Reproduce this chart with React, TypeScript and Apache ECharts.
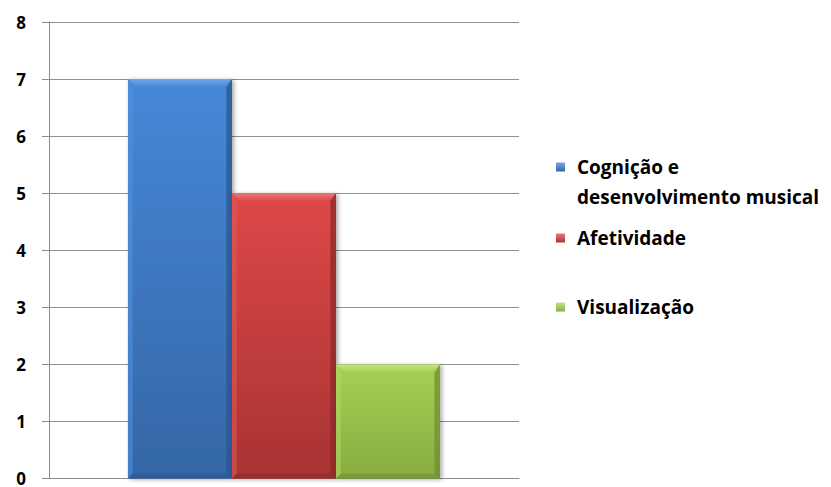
import React, { useEffect, useRef } from "react";
import * as echarts from "echarts";

const categories = [""];
const seriesNames = ["Cognição e desenvolvimento musical", "Afetividade", "Visualização"];
const seriesValues = [7, 5, 2];
const yTickLabels = ["0", "1", "2", "3", "4", "5", "6", "7", "8"];

const palette = [
  { top: "#4688D8", bottom: "#3566A6", light: "#73A6EA", dark: "#2B5590", side: "#5292DE" },
  { top: "#DE4848", bottom: "#A83333", light: "#EE7A78", dark: "#8E2A2A", side: "#E25A58" },
  { top: "#A8D054", bottom: "#86AC40", light: "#C6E482", dark: "#6F8F33", side: "#B2D862" },
];

const CAT_GAP = 0.336;
const FONT = "'Open Sans', 'Noto Sans', sans-serif";

export default function App() {
  const ref = useRef<HTMLDivElement>(null);
  useEffect(() => {
    if (!ref.current) return;
    const chart = echarts.init(ref.current, undefined, { renderer: "svg" });
    const n = seriesNames.length;

    const series = seriesNames.map((name, i) => ({
      type: "custom",
      name,
      itemStyle: { color: palette[i].top },
      data: [[0, seriesValues[i]]],
      renderItem: (params: any, api: any) => {
        const v = api.value(1);
        const top = api.coord([api.value(0), v]);
        const base = api.coord([api.value(0), 0]);
        const band = api.size([1, 0])[0];
        const groupW = band * (1 - CAT_GAP);
        const bw = groupW / n;
        const x0 = top[0] - groupW / 2 + params.seriesIndex * bw;
        const x1 = x0 + bw;
        const y0 = top[1];
        const y1 = base[1];
        const b = Math.min(8, (y1 - y0) / 2);
        const c = palette[params.seriesIndex];
        const grad = new echarts.graphic.LinearGradient(0, 0, 0, 1, [
          { offset: 0, color: c.top },
          { offset: 1, color: c.bottom },
        ]);
        return {
          type: "group",
          children: [
            {
              type: "rect",
              shape: { x: x0, y: y0, width: bw, height: y1 - y0 },
              style: {
                fill: grad,
                shadowBlur: 4,
                shadowOffsetX: 2,
                shadowOffsetY: 1,
                shadowColor: "rgba(0,0,0,0.35)",
              },
            },
            {
              type: "polygon",
              shape: { points: [[x0, y0], [x1, y0], [x1 - b, y0 + b], [x0 + b, y0 + b]] },
              style: {
                fill: new echarts.graphic.LinearGradient(0, 0, 0, 1, [
                  { offset: 0, color: c.light },
                  { offset: 1, color: c.top },
                ]),
              },
            },
            {
              type: "polygon",
              shape: { points: [[x0, y0], [x0 + b * 0.6, y0 + b], [x0 + b * 0.6, y1 - b * 0.6], [x0, y1]] },
              style: { fill: c.side, opacity: 0.55 },
            },
            {
              type: "polygon",
              shape: { points: [[x1, y0], [x1, y1], [x1 - b * 0.7, y1 - b * 0.6], [x1 - b * 0.7, y0 + b]] },
              style: { fill: c.dark, opacity: 0.75 },
            },
            {
              type: "polygon",
              shape: { points: [[x0, y1], [x1, y1], [x1 - b * 0.7, y1 - b * 0.6], [x0 + b * 0.6, y1 - b * 0.6]] },
              style: { fill: c.dark, opacity: 0.6 },
            },
          ],
        };
      },
    }));

    const legendIcon = (i: number) =>
      new echarts.graphic.LinearGradient(0, 0, 0, 1, [
        { offset: 0, color: palette[i].light },
        { offset: 1, color: palette[i].bottom },
      ]);

    const legendCommon = {
      orient: "vertical",
      left: 556,
      padding: 0,
      icon: "rect",
      itemWidth: 9,
      itemHeight: 9,
      selectedMode: false,
    };
    const legendText = (pad: number[]) => ({
      color: "#000",
      fontFamily: FONT,
      fontWeight: "bold",
      fontSize: 19,
      lineHeight: 30,
      padding: pad,
    });

    chart.setOption({
      animation: false,
      backgroundColor: "#ffffff",
      grid: { left: 49, right: 312, top: 22, bottom: 8, containLabel: false },
      xAxis: {
        type: "category",
        data: categories,
        axisLine: { show: true, lineStyle: { color: "#8a8a8a", width: 1 } },
        axisTick: { show: false },
        axisLabel: { show: false },
      },
      yAxis: {
        type: "value",
        min: 0,
        max: 8,
        interval: 1,
        axisLine: { show: true, lineStyle: { color: "#8a8a8a", width: 1 } },
        axisTick: { show: true, length: 7, lineStyle: { color: "#8a8a8a" } },
        splitLine: { show: true, lineStyle: { color: "#8f8f8f", width: 1 } },
        axisLabel: {
          margin: 23,
          color: "#000000",
          fontFamily: FONT,
          fontWeight: "bold",
          fontSize: 17,
          formatter: (val: number) => yTickLabels[val] ?? String(val),
        },
      },
      legend: [
        {
          ...legendCommon,
          top: 122,
          data: [{ name: seriesNames[0], itemStyle: { color: legendIcon(0) } }],
          formatter: () => "\nCognição e\ndesenvolvimento musical",
          textStyle: legendText([0, 0, 0, 7]),
        },
        {
          ...legendCommon,
          top: 223,
          data: [{ name: seriesNames[1], itemStyle: { color: legendIcon(1) } }],
          textStyle: legendText([0, 0, 0, 7]),
        },
        {
          ...legendCommon,
          top: 292,
          data: [{ name: seriesNames[2], itemStyle: { color: legendIcon(2) } }],
          textStyle: legendText([0, 0, 0, 7]),
        },
      ],
      series,
    });
    return () => chart.dispose();
  }, []);
  return (
    <div
      ref={ref}
      style={{ position: "absolute", left: 0, top: 0, width: 831, height: 487 }}
    />
  );
}
